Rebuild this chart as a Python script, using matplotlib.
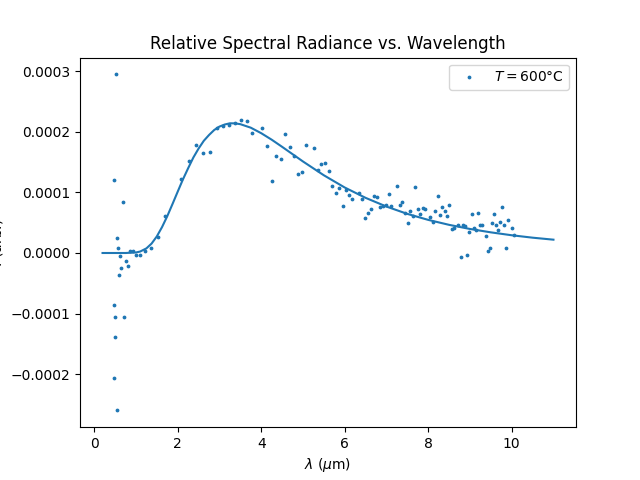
import numpy as np
import matplotlib.pyplot as plt

# Measured points (wavelength in um, radiance in units of 1e-4)
lam_meas = [0.53, 0.48, 0.69, 0.55, 0.57, 0.62, 0.86, 0.93, 1.01, 1.10,
            1.22, 0.77, 0.65, 0.81, 0.60, 0.48, 0.50, 0.72, 0.50, 0.48,
            0.55, 1.36, 1.53, 1.70, 2.08, 2.27, 2.44, 2.61, 2.78, 2.94,
            3.09, 3.23, 3.38, 3.52, 3.66, 3.78, 4.02, 4.14, 4.26, 4.36,
            4.48, 4.57, 4.69, 4.79, 4.88, 4.98, 5.08, 5.27, 5.36, 5.43,
            5.53, 5.63, 5.70, 5.79, 5.87, 5.96, 6.03, 6.10, 6.18, 6.34,
            6.42, 6.49, 6.56, 6.63, 6.70, 6.78, 6.85, 6.92, 6.99, 7.06,
            7.11, 7.25, 7.33, 7.37, 7.45, 7.52, 7.57, 7.64, 7.69, 7.76,
            7.80, 7.88, 7.92, 8.04, 8.12, 8.16, 8.24, 8.28, 8.33, 8.40,
            8.45, 8.50, 8.57, 8.62, 8.71, 8.79, 8.83, 8.88, 8.93, 8.98,
            9.05, 9.10, 9.15, 9.19, 9.24, 9.29, 9.38, 9.43, 9.48, 9.53,
            9.58, 9.62, 9.67, 9.72, 9.77, 9.82, 9.86, 9.91, 10.01, 10.05]
rad_meas = [2.95, 1.20, 0.85, 0.24, 0.09, -0.05, 0.04, 0.03, -0.04, -0.04,
            0.03, -0.14, -0.25, -0.22, -0.37, -0.86, -1.06, -1.06, -1.38, -2.07,
            -2.60, 0.09, 0.26, 0.61, 1.22, 1.52, 1.78, 1.65, 1.66, 2.06,
            2.09, 2.11, 2.14, 2.19, 2.18, 1.98, 2.06, 1.76, 1.19, 1.61,
            1.55, 1.96, 1.75, 1.61, 1.30, 1.33, 1.78, 1.73, 1.37, 1.47,
            1.48, 1.35, 1.10, 0.99, 1.07, 0.77, 1.04, 0.95, 0.90, 0.99,
            0.90, 0.57, 0.66, 0.72, 0.94, 0.92, 0.76, 0.77, 0.79, 0.97,
            0.77, 1.10, 0.79, 0.84, 0.66, 0.49, 0.69, 0.61, 1.09, 0.72,
            0.64, 0.74, 0.72, 0.59, 0.51, 0.69, 0.94, 0.62, 0.76, 0.69,
            0.61, 0.80, 0.39, 0.42, 0.47, -0.07, 0.46, 0.44, -0.04, 0.34,
            0.64, 0.42, 0.38, 0.66, 0.47, 0.46, 0.28, 0.04, 0.09, 0.49,
            0.64, 0.47, 0.38, 0.52, 0.76, 0.47, 0.09, 0.54, 0.42, 0.29]

# Fitted curve
lam_fit = [0.2, 0.5, 0.75, 1.0, 1.1, 1.25, 1.375, 1.5, 1.625, 1.75,
           1.875, 2.0, 2.125, 2.25, 2.375, 2.5, 2.625, 2.75, 2.875, 3.0,
           3.125, 3.25, 3.375, 3.5, 3.75, 4.0, 4.25, 4.5, 5.0, 5.5,
           6.0, 6.5, 7.0, 7.5, 8.0, 8.5, 9.0, 9.5, 10.0, 10.5, 11.0]
rad_fit = [0.0, 0.0, 0.0, 0.0085, 0.024, 0.076, 0.156, 0.274, 0.428, 0.608,
           0.808, 1.013, 1.215, 1.40, 1.577, 1.725, 1.853, 1.949, 2.032, 2.088,
           2.122, 2.142, 2.141, 2.128, 2.07, 1.979, 1.872, 1.754, 1.512, 1.284,
           1.082, 0.911, 0.767, 0.646, 0.547, 0.465, 0.397, 0.341, 0.293, 0.253, 0.220]

scale = 1e-4

fig, ax = plt.subplots(figsize=(6.4, 4.8), dpi=100)
ax.scatter(lam_meas, np.array(rad_meas) * scale, s=3, label=r"$T = 600$°C")
ax.plot(lam_fit, np.array(rad_fit) * scale)
ax.set_title("Relative Spectral Radiance vs. Wavelength")
ax.set_xlabel(r"$\lambda$ ($\mu$m)")
# the label runs off the left edge in the original too
ax.set_ylabel(r"$I$ (arb.)")
ax.legend(loc="upper right")

fig.savefig("out.png", dpi=100)
plt.close(fig)
